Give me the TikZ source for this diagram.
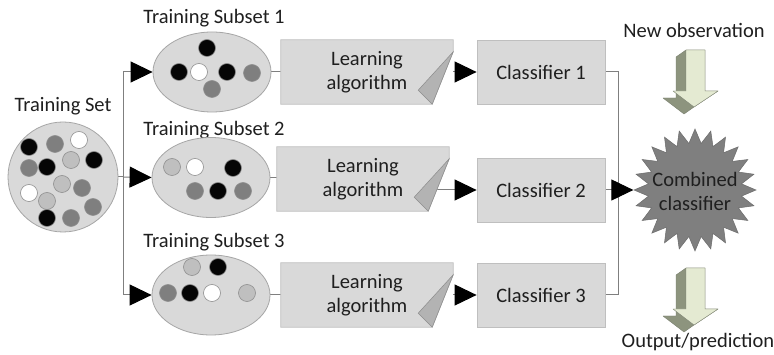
\documentclass[tikz,border=0pt]{standalone}
\usepackage{fontspec}
\setmainfont{Carlito}
\usetikzlibrary{arrows.meta,shapes.geometric}
\pgfdeclarelayer{back}
\pgfdeclarelayer{bg}
\pgfdeclarelayer{mid}
\pgfsetlayers{back,bg,mid,main}
\definecolor{nodefill}{HTML}{D9D9D9}
\definecolor{nodeline}{HTML}{A6A6A6}
\definecolor{boxline}{HTML}{BFBFBF}
\definecolor{foldfill}{HTML}{B3B3B3}
\definecolor{foldline}{HTML}{8C8C8C}
\definecolor{linegray}{HTML}{7F7F7F}
\definecolor{txt}{HTML}{1F1F1F}
\definecolor{bk}{HTML}{050505}
\definecolor{dg}{HTML}{7F7F7F}
\definecolor{lg}{HTML}{BFBFBF}
\definecolor{wh}{HTML}{FFFFFF}
\definecolor{ballline}{HTML}{8F8F8F}
\definecolor{stargray}{HTML}{7F7F7F}
\definecolor{arrfront}{HTML}{E4EAD2}
\definecolor{arrside}{HTML}{8D947E}
\definecolor{arrline}{HTML}{7A8070}
\newcommand{\pagefold}[1]{%
  \begin{pgfonlayer}{mid}
    \draw[fill=nodefill, draw=boxline, line width=0.8pt]
      (#1.north west) -- (#1.north east) -- ([yshift=-12pt]#1.north east)
      -- ([xshift=-21pt]#1.south east) -- (#1.south west) -- cycle;
    \draw[fill=foldfill, draw=foldline, line width=0.5pt]
      ([yshift=-12pt]#1.north east) -- ([xshift=-35pt,yshift=14pt]#1.south east)
      -- ([xshift=-21pt]#1.south east) -- cycle;
  \end{pgfonlayer}}
\newcommand{\blockarrow}{%
  \draw[fill=arrside, draw=arrline, line width=0.4pt, line join=round]
    (676,57) -- (686,50) -- (705,50) -- (705,91) -- (718,91) -- (694,107)
    -- (684,114) -- (663,98) -- (676,98) -- cycle;
  \draw[fill=arrfront, draw=arrline, line width=0.4pt, line join=round]
    (686,50) -- (705,50) -- (705,91) -- (718,91) -- (694,107) -- (673,91)
    -- (686,91) -- cycle;}
\begin{document}
\begin{tikzpicture}[x=1pt,y=-1pt,
  lbl/.style={font=\fontsize{20.5}{24}\selectfont, inner sep=0pt, align=center, text=txt},
  ball/.style={circle, minimum size=17pt, inner sep=0pt, draw=ballline, line width=0.6pt, fill=#1},
  bigset/.style={fill=nodefill, draw=nodeline, line width=0.8pt, inner sep=0pt},
  labox/.style={rectangle, minimum width=172pt, minimum height=64pt, inner sep=0pt},
  clbox/.style={rectangle, minimum width=128pt, minimum height=64pt, inner sep=0pt,
                fill=nodefill, draw=boxline, line width=0.8pt},
  conn/.style={draw=linegray, line width=1pt},
  arr/.style={draw=linegray, line width=1pt, -{Triangle[length=22pt,width=21pt,color=black]}}]
\useasboundingbox (0,0) rectangle (774,355);
\begin{pgfonlayer}{back}
\fill[white] (0,0) rectangle (774,355);
\end{pgfonlayer}

% training set
\node[lbl] (tstitle) at (63,106) {Training Set};
\node[bigset, circle, minimum size=110pt] (ts) at (63,177) {};
\foreach [count=\i] \x/\y/\c in {29/147/bk, 55/144/dg, 79/140/wh, 71/160/lg, 94/160/bk,
   29/168/dg, 47/167/bk, 62/184/lg, 82/188/dg, 29/193/wh, 47/201/lg, 93/207/dg,
   47/218/bk, 71/218/dg}
  \node[ball=\c] (t\i) at (\x,\y) {};

% subsets
\node[lbl] (s1title) at (214,18) {Training Subset 1};
\node[lbl] (s2title) at (214,130) {Training Subset 2};
\node[lbl] (s3title) at (214,242) {Training Subset 3};
\node[bigset, ellipse, minimum width=118pt, minimum height=80pt] (s1) at (212,72) {};
\node[bigset, ellipse, minimum width=118pt, minimum height=80pt] (s2) at (211,177.5) {};
\node[bigset, ellipse, minimum width=118pt, minimum height=80pt] (s3) at (211,295) {};
\foreach [count=\i] \x/\y/\c in {207/48/bk, 179/72/bk, 199/72/wh, 227/72/bk, 252/73/dg, 212/89/dg}
  \node[ball=\c] (a\i) at (\x,\y) {};
\foreach [count=\i] \x/\y/\c in {172/167/lg, 195/167/wh, 233/168/bk, 195/191/dg, 218/191/bk, 243/191/dg}
  \node[ball=\c] (b\i) at (\x,\y) {};
\foreach [count=\i] \x/\y/\c in {192/267/lg, 218/267/bk, 168/293/dg, 190/293/bk, 212/293/wh, 247/293/lg}
  \node[ball=\c] (c\i) at (\x,\y) {};

% learning algorithm pages
\node[labox, lbl] (la1) at (367,72) {Learning\\algorithm};
\node[labox, lbl] (la2) at (363,179) {Learning\\algorithm};
\node[labox, lbl] (la3) at (367,295) {Learning\\algorithm};
\pagefold{la1}
\pagefold{la2}
\pagefold{la3}

% classifiers
\node[clbox, lbl] (cl1) at (541,72) {Classifier 1};
\node[clbox, lbl] (cl2) at (541,190) {Classifier 2};
\node[clbox, lbl] (cl3) at (541,295) {Classifier 3};

% combined classifier
\node[star, star points=24, star point ratio=1.3, minimum size=122pt, inner sep=0pt,
      fill=stargray, draw=stargray!85!black, line width=0.5pt] (comb) at (695,190) {};
\node[lbl] (combtxt) at (695,191) {Combined\\classifier};

% new observation / output
\node[lbl] (newobs) at (694,30) {New observation};
\node[lbl] (outp) at (698,342) {Output/prediction};
\blockarrow
\begin{scope}[shift={(0,218)}]
\blockarrow
\end{scope}

% connectors
\coordinate (j1) at (123,72);
\coordinate (jm) at (123,177);
\coordinate (j3) at (123,295);
\coordinate (r1) at (618,72);
\coordinate (r3) at (618,295);
\begin{pgfonlayer}{bg}
\draw[conn] (ts.east) -- (jm);
\draw[conn] (j1) -- (j3);
\draw[arr] (j1) -- (s1.west);
\draw[arr] (jm) -- (s2.west);
\draw[arr] (j3) -- (s3.west);
\draw[conn] (s1.east) -- (la1.west);
\draw[conn] (s2.east) -- (la2.west |- s2.east);
\draw[conn] (s3.east) -- (la3.west);
\draw[arr] (la1.east) -- (cl1.west);
\draw[arr] (la2.center |- cl2.west) -- (cl2.west);
\draw[arr] (la3.east) -- (cl3.west);
\draw[conn] (cl1.east) -- (r1) -- (r3) -- (cl3.east);
\draw[arr] (cl2.east) -- (comb.west);
\end{pgfonlayer}
\end{tikzpicture}
\end{document}
